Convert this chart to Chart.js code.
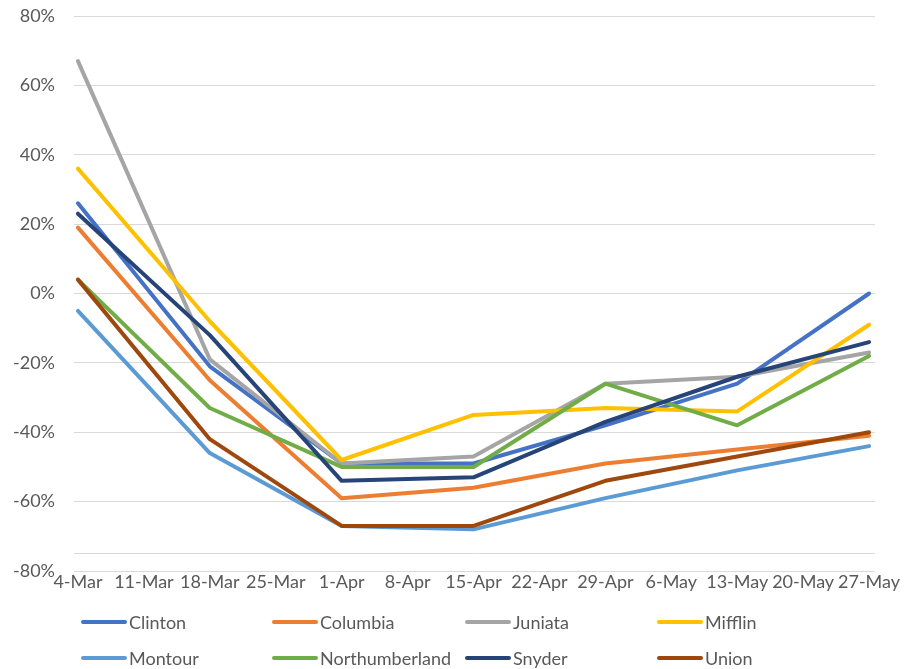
<!DOCTYPE html>
<html>
<head>
<meta charset="utf-8">
<script src="https://cdn.jsdelivr.net/npm/chart.js@4/dist/chart.umd.min.js"></script>
<style>
  html, body { margin: 0; padding: 0; background: #fff; }
  #wrap { position: relative; width: 924px; height: 669px; }
  #legend { position: absolute; left: 0; top: 0; width: 924px; height: 669px; pointer-events: none;
            font-family: Lato, "Open Sans", sans-serif; font-size: 18px; color: #595959; }
  .item { position: absolute; display: flex; align-items: center; height: 24px; white-space: nowrap; }
  .swatch { width: 46px; height: 4px; border-radius: 2px; margin-right: 2px; }
</style>
</head>
<body>
<div id="wrap">
  <canvas id="chart" width="924" height="669"></canvas>
  <div id="legend"></div>
</div>
<script>
// Weekly dates on the category axis
const dates = ['4-Mar', '11-Mar', '18-Mar', '25-Mar', '1-Apr', '8-Apr', '15-Apr',
               '22-Apr', '29-Apr', '6-May', '13-May', '20-May', '27-May'];

// Percent change per county (measured every two weeks)
const clinton        = [26, null, -21, null, -49, null, -49, null, -38, null, -26, null, 0];
const columbia       = [19, null, -25, null, -59, null, -56, null, -49, null, -45, null, -41];
const juniata        = [67, null, -19, null, -49, null, -47, null, -26, null, -24, null, -17];
const mifflin        = [36, null, -8,  null, -48, null, -35, null, -33, null, -34, null, -9];
const montour        = [-5, null, -46, null, -67, null, -68, null, -59, null, -51, null, -44];
const northumberland = [4,  null, -33, null, -50, null, -50, null, -26, null, -38, null, -18];
const snyder         = [23, null, -12, null, -54, null, -53, null, -37, null, -24, null, -14];
const union          = [4,  null, -42, null, -67, null, -67, null, -54, null, -47, null, -40];

const countyNames = ['Clinton', 'Columbia', 'Juniata', 'Mifflin',
                     'Montour', 'Northumberland', 'Snyder', 'Union'];
const countyValues = [clinton, columbia, juniata, mifflin, montour, northumberland, snyder, union];
const palette = ['#4472C4', '#ED7D31', '#A5A5A5', '#FFC000',
                 '#5B9BD5', '#70AD47', '#264478', '#9E480E'];

// Value axis ticks (the -75 entry is where the category axis line crosses)
const yTicks = [-80, -75, -60, -40, -20, 0, 20, 40, 60, 80];

const datasets = countyNames.map((name, i) => ({
  label: name,
  data: countyValues[i]
    .map((v, j) => (v === null ? null : { x: j, y: v }))
    .filter(p => p !== null),
  borderColor: palette[i],
  backgroundColor: palette[i],
  borderWidth: 4,
  borderCapStyle: 'round',
  borderJoinStyle: 'round',
  pointRadius: 0,
  tension: 0,
  fill: false,
  order: countyNames.length - i   // later counties are painted on top
}));

const tickFont = { family: 'Lato, "Open Sans", sans-serif', size: 18 };
const textColor = '#595959';

const chart = new Chart(document.getElementById('chart'), {
  type: 'line',
  data: { datasets },
  options: {
    responsive: false,
    animation: false,
    devicePixelRatio: 1,
    layout: { padding: { left: 0, top: 16, right: 49, bottom: 0 } },
    plugins: { legend: { display: false }, tooltip: { enabled: false } },
    scales: {
      x: {
        type: 'linear',
        min: -0.06,
        max: 12.09,
        afterBuildTicks: s => { s.ticks = dates.map((d, i) => ({ value: i })); },
        afterFit: s => { s.height = 98; },
        ticks: {
          callback: v => dates[v],
          font: tickFont,
          color: textColor,
          padding: 0,
          maxRotation: 0,
          autoSkip: false
        },
        grid: { display: false, drawTicks: false, tickLength: 0 },
        border: { display: false }
      },
      y: {
        min: -80,
        max: 80,
        afterBuildTicks: s => { s.ticks = yTicks.map(v => ({ value: v })); },
        afterFit: s => { s.width = 74; },
        ticks: {
          callback: v => (v === -75 ? '' : v + '%'),
          font: tickFont,
          color: textColor,
          padding: 2
        },
        grid: { color: '#D9D9D9', lineWidth: 1, drawTicks: true, tickLength: 17, tickColor: 'rgba(0,0,0,0)' },
        border: { display: false }
      }
    }
  }
});

// Legend: four columns, two rows beneath the plot
const legend = document.getElementById('legend');
const colX = [81, 272, 465, 657];
const rowY = [610, 646];
chart.data.datasets.forEach((ds, i) => {
  const item = document.createElement('div');
  item.className = 'item';
  item.style.left = colX[i % 4] + 'px';
  item.style.top = rowY[Math.floor(i / 4)] + 'px';
  const sw = document.createElement('span');
  sw.className = 'swatch';
  sw.style.background = ds.borderColor;
  const label = document.createElement('span');
  label.textContent = ds.label;
  item.appendChild(sw);
  item.appendChild(label);
  legend.appendChild(item);
});
</script>
</body>
</html>
